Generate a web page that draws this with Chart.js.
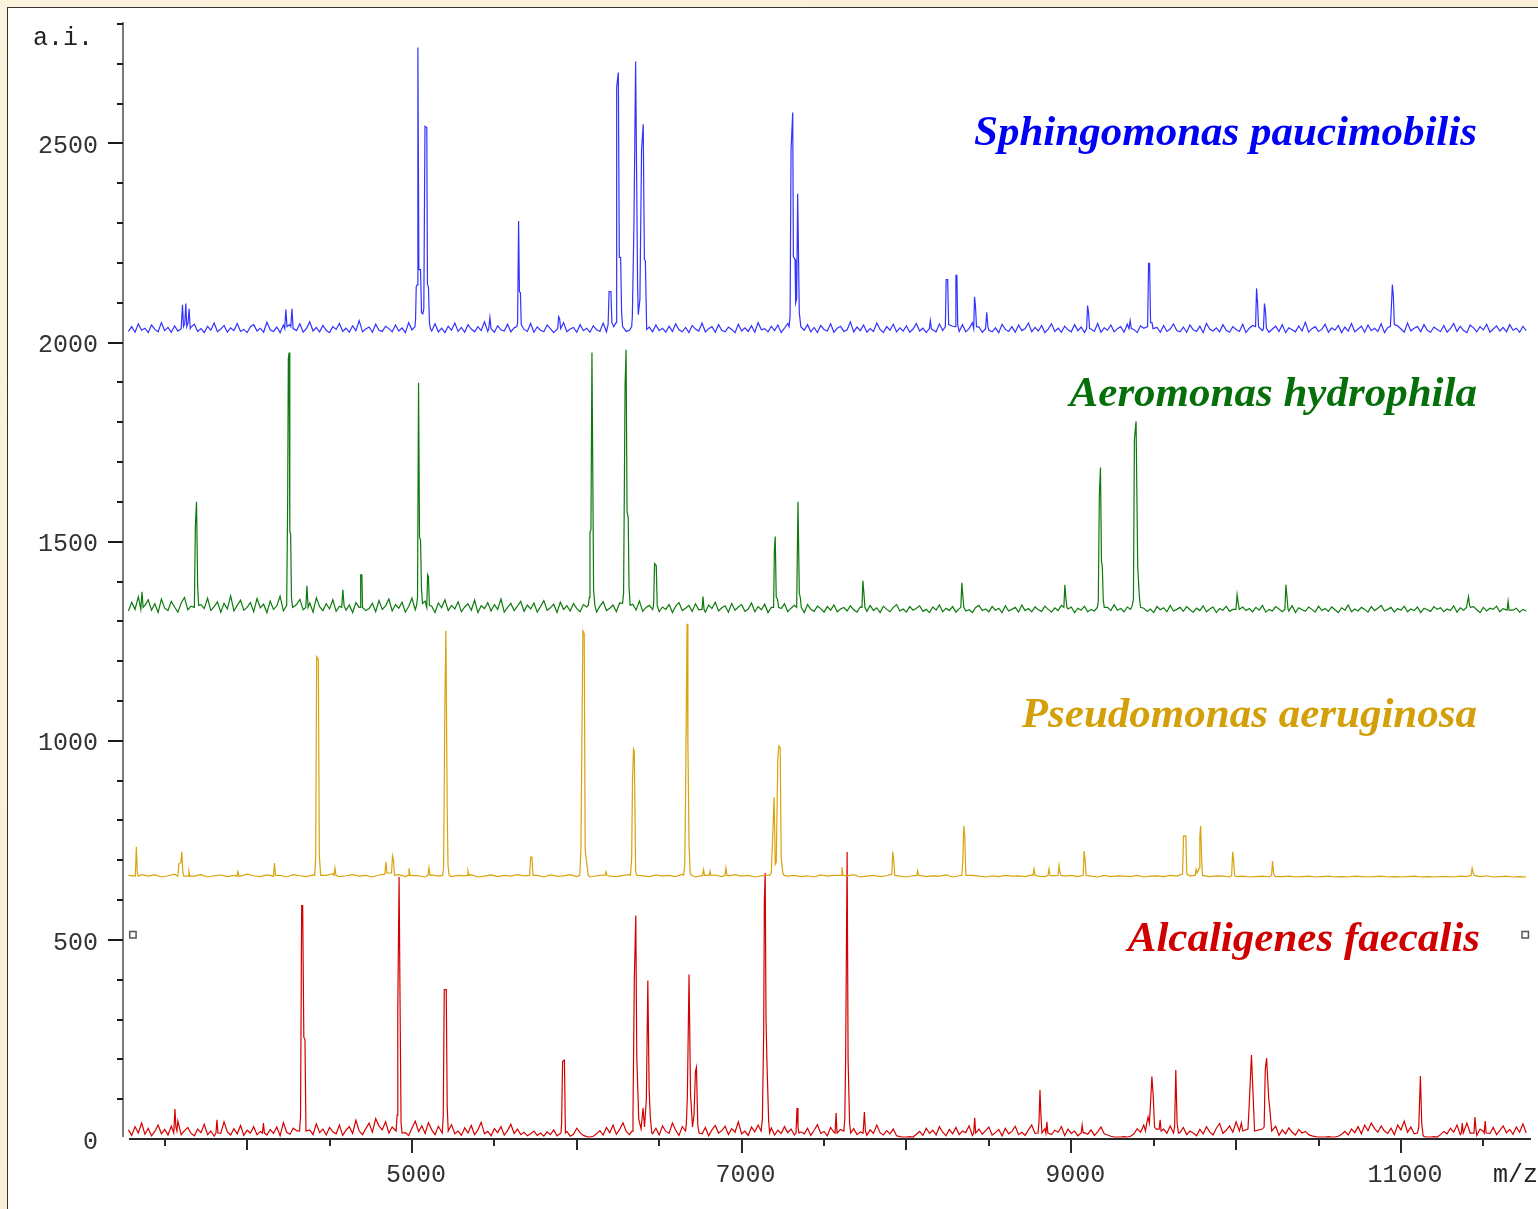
<!DOCTYPE html>
<html>
<head>
<meta charset="utf-8">
<script src="https://cdn.jsdelivr.net/npm/chart.js@4.4.1/dist/chart.umd.min.js"></script>
<style>
  html, body { margin: 0; padding: 0; }
  body { width: 1538px; height: 1209px; overflow: hidden; position: relative;
         background: linear-gradient(135deg, #fcf3de 0%, #faefd6 50%, #fcf4e0 100%); }
  #panel { position: absolute; left: 7px; top: 7px; width: 1540px; height: 1210px;
           background: #fff; border-top: 1px solid #333; border-left: 1px solid #333; }
  #chart { position: absolute; left: 0; top: 0; }
</style>
</head>
<body>
<div id="panel"></div>
<canvas id="chart" width="1538" height="1209"></canvas>
<script>
// axis ranges and tick labels (m/z, arbitrary intensity)
const xMin = 3247;
const xMax = 11789;
const yMin = 0;
const yMax = 2800;
const xLabelValues = [5000, 7000, 9000, 11000];
const yLabelValues = [0, 500, 1000, 1500, 2000, 2500];

const speciesNames = ['Sphingomonas paucimobilis', 'Aeromonas hydrophila', 'Pseudomonas aeruginosa', 'Alcaligenes faecalis'];
const lineColors = ['#3232ff', '#0c7a0c', '#d9a30c', '#d40000'];
const nameColors = ['#0000f5', '#05700a', '#d4a00a', '#d00000'];

// baseline noise, read on a regular m/z grid starting at 3280
const noiseStart = 3280;

const blueBase = 2022;
const blueStep = 20;
const blueNoise = [
  6, 18, 4, 25, 9, 14, 3, 22, 11, 5, 28, 8, 16, 4, 20, 7, 31, 10, 5, 17,
  24, 6, 13, 3, 19, 9, 27, 5, 12, 21, 4, 15, 8, 26, 6, 11, 3, 18, 23, 7,
  14, 4, 29, 10, 6, 17, 3, 22, 12, 5, 19, 8, 25, 4, 13, 30, 7, 16, 5, 21,
  9, 3, 18, 11, 26, 6, 14, 4, 20, 8, 33, 5, 12, 17, 4, 24, 9, 6, 19, 13,
  5, 22, 7, 15, 3, 28, 10, 6, 18, 4, 21, 11, 7, 25, 5, 14, 3, 19, 9, 27,
  6, 16, 4, 23, 12, 5, 18, 8, 30, 6, 13, 4, 20, 10, 7, 24, 5, 15, 3, 21,
  11, 6, 26, 4, 17, 9, 5, 22, 13, 3, 19, 7, 28, 5, 12, 16, 4, 23, 8, 14,
  4, 20, 10, 6, 27, 5, 15, 3, 18, 11, 24, 6, 9, 21, 4, 13, 29, 7, 17, 5,
  22, 8, 14, 4, 19, 6, 25, 10, 5, 16, 3, 21, 12, 7, 27, 5, 13, 18, 4, 23,
  9, 5, 17, 11, 3, 24, 7, 15, 6, 20, 4, 28, 10, 13, 5, 19, 8, 22, 3, 14,
  26, 6, 12, 4, 18, 9, 23, 5, 16, 3, 21, 11, 7, 25, 4, 14, 19, 6, 10, 30,
  5, 17, 8, 22, 4, 13, 6, 27, 11, 3, 18, 9, 24, 5, 15, 7, 20, 4, 12, 26,
  7, 14, 3, 21, 10, 5, 25, 8, 16, 4, 19, 12, 6, 23, 5, 13, 28, 7, 17, 4,
  20, 9, 5, 15, 3, 24, 11, 6, 18, 4, 22, 8, 13, 27, 5, 16, 7, 21, 3, 12,
  25, 6, 14, 4, 19, 10, 5, 23, 8, 17, 3, 20, 12, 6, 26, 4, 15, 9, 22, 5,
  13, 18, 4, 24, 7, 11, 3, 20, 14, 5, 28, 9, 16, 4, 21, 6, 12, 25, 8, 5,
  17, 4, 22, 10, 6, 19, 3, 26, 12, 7, 15, 5, 23, 9, 4, 18, 11, 6, 24, 3,
  14, 21, 5, 16, 8, 27, 4, 12, 19, 6, 23, 3, 15, 10, 5, 20, 7, 29, 4, 13,
  18, 6, 11, 24, 4, 15, 9, 21, 3, 17, 7, 26, 5, 12, 19, 4, 22, 8, 14, 6,
  25, 3, 16, 10, 5, 20, 12, 4, 27, 7, 14, 18, 5, 23, 9, 4, 17, 11, 6, 21,
  4, 13, 26, 6, 19, 8, 3, 22, 15, 5, 18, 10, 24, 4, 12, 20, 7, 16, 5, 23,
  9, 14, 4, 19, 8
];

const greenBase = 1318;
const greenStep = 20;
const greenNoise = [
  8, 30, 12, 44, 6, 22, 36, 10, 26, 4, 38, 15, 9, 32, 18, 5, 28, 42, 11, 20,
  34, 7, 24, 14, 40, 9, 19, 31, 5, 27, 13, 46, 8, 22, 35, 10, 17, 29, 6, 39,
  16, 25, 4, 33, 12, 21, 45, 8, 18, 30, 6, 24, 37, 11, 15, 28, 5, 41, 19, 9,
  26, 13, 36, 7, 20, 32, 10, 23, 4, 29, 17, 43, 9, 14, 27, 6, 34, 12, 21, 38,
  8, 24, 15, 30, 5, 19, 40, 11, 25, 7, 33, 14, 20, 4, 28, 16, 36, 9, 22, 13,
  31, 6, 18, 26, 10, 35, 4, 21, 14, 29, 8, 24, 12, 38, 5, 17, 27, 9, 20, 32,
  7, 23, 13, 28, 5, 19, 34, 10, 16, 25, 4, 30, 12, 21, 8, 27, 14, 6, 24, 18,
  11, 26, 5, 20, 31, 9, 15, 23, 6, 28, 13, 19, 4, 25, 10, 33, 7, 17, 22, 12,
  27, 6, 18, 12, 24, 4, 20, 29, 9, 15, 22, 7, 26, 11, 17, 5, 23, 14, 30, 8,
  16, 21, 5, 27, 10, 18, 24, 7, 13, 28, 6, 19, 11, 25, 4, 17, 22, 9, 14, 26,
  6, 15, 22, 9, 18, 4, 24, 12, 7, 20, 14, 5, 19, 10, 23, 6, 13, 17, 8, 21,
  11, 5, 18, 14, 7, 22, 9, 16, 4, 20, 12, 6, 17, 24, 8, 13, 5, 19, 10, 15,
  21, 7, 12, 4, 18, 10, 23, 6, 15, 9, 19, 5, 14, 20, 8, 11, 4, 17, 22, 9,
  13, 6, 19, 10, 15, 4, 21, 8, 12, 17, 5, 23, 9, 14, 6, 18, 11, 7, 20, 12,
  5, 16, 9, 22, 7, 13, 18, 4, 15, 10, 20, 6, 12, 8, 19, 14, 5, 17, 9, 24,
  10, 14, 6, 18, 12, 5, 20, 9, 15, 7, 13, 4, 19, 11, 16, 6, 22, 8, 12, 17,
  7, 19, 11, 5, 15, 9, 21, 6, 13, 18, 4, 14, 10, 20, 7, 12, 16, 5, 18, 9,
  14, 6, 17, 10, 22, 5, 12, 8, 19, 13, 6, 15, 9, 21, 4, 16, 11, 7, 18, 12,
  5, 20, 9, 14, 7, 18, 11, 4, 16, 10, 23, 6, 13, 8, 17, 12, 5, 19, 9, 15,
  22, 8, 12, 17, 5, 14, 10, 20, 6, 13, 9, 18, 4, 15, 11, 7, 19, 12, 16, 6,
  13, 9, 21, 5, 16, 10, 14, 7, 19, 11, 4, 17, 8, 15, 12, 20, 6, 14, 9, 18,
  10, 15, 5, 12, 8
];

const goldBase = 656;
const goldStep = 40;
const goldNoise = [
  6, 3, 8, 4, 7, 2, 5, 9, 3, 6, 4, 8, 2, 5, 7, 3, 6, 4, 9, 5,
  3, 7, 4, 6, 2, 8, 5, 3, 7, 4, 6, 10, 3, 5, 8, 4, 6, 2, 7, 5,
  4, 8, 3, 6, 5, 2, 7, 4, 9, 3, 6, 5, 8, 2, 4, 7, 3, 6, 4, 8,
  5, 3, 6, 2, 7, 4, 5, 8, 3, 6, 2, 5, 7, 4, 3, 6, 8, 4, 5, 3,
  7, 4, 6, 3, 9, 5, 2, 6, 4, 7, 3, 5, 8, 4, 6, 2, 5, 7, 3, 6,
  4, 6, 3, 5, 2, 7, 4, 6, 3, 5, 8, 2, 4, 6, 3, 5, 7, 4, 2, 5,
  6, 3, 5, 4, 7, 2, 5, 3, 6, 4, 2, 5, 3, 6, 4, 5, 3, 7, 4, 3,
  5, 2, 4, 6, 3, 5, 4, 2, 6, 3, 5, 4, 3, 6, 2, 4, 5, 3, 6, 4,
  3, 5, 2, 4, 3, 5, 4, 2, 3, 4, 2, 3, 4, 2, 3, 3, 4, 2, 3, 4,
  2, 3, 4, 2, 3, 2, 4, 3, 2, 3, 4, 2, 3, 2, 3, 4, 2, 3, 2, 3,
  3, 2, 4, 3, 2, 3, 5, 2, 3, 4, 2, 3, 2
];

const redBase = 5;
const redStep = 20;
const redNoise = [
  18, 4, 26, 10, 35, 7, 22, 3, 14, 30, 8, 19, 5, 27, 12, 40, 6, 16, 24, 9,
  3, 20, 11, 32, 6, 15, 2, 24, 9, 38, 13, 5, 21, 8, 29, 4, 17, 10, 26, 6,
  14, 31, 5, 19, 9, 25, 3, 36, 12, 7, 22, 16, 4, 28, 10, 18, 6, 33, 11, 20,
  5, 24, 13, 8, 30, 4, 17, 26, 9, 42, 15, 6, 21, 35, 12, 46, 28, 18, 38, 10,
  25, 7, 16, 33, 11, 4, 22, 40, 14, 28, 9, 36, 18, 6, 27, 12, 3, 19, 31, 8,
  15, 4, 23, 10, 29, 6, 18, 37, 8, 14, 3, 21, 11, 26, 5, 16, 32, 9, 20, 6,
  12, 3, 8, 15, 4, 10, 2, 13, 6, 18, 3, 9, 5, 14, 2, 7, 22, 11, 4, 1,
  0, 2, 8, 16, 5, 24, 11, 30, 7, 19, 36, 14, 6, 27, 10, 20, 4, 33, 12, 8,
  22, 5, 28, 14, 9, 35, 17, 4, 26, 11, 20, 6, 31, 15, 8, 24, 3, 18, 29, 10,
  16, 27, 6, 21, 12, 38, 8, 15, 4, 25, 13, 30, 7, 19, 10, 23, 5, 17, 9, 26,
  11, 20, 5, 28, 13, 8, 22, 4, 17, 31, 9, 14, 3, 24, 12, 6, 19, 27, 8, 15,
  21, 6, 13, 25, 4, 18, 9, 30, 11, 5, 16, 8, 20, 3, 1, 0, 0, 1, 0, 7,
  14, 4, 22, 9, 17, 5, 26, 12, 3, 19, 8, 24, 6, 15, 11, 28, 4, 13, 20, 7,
  16, 25, 5, 11, 19, 3, 22, 8, 14, 27, 6, 12, 4, 18, 30, 9, 15, 5, 21, 10,
  6, 17, 12, 26, 4, 20, 9, 15, 3, 23, 11, 7, 18, 4, 13, 25, 8, 5, 2, 0,
  0, 0, 1, 0, 2, 8, 21, 12, 30, 16, 6, 24, 35, 14, 20, 9, 28, 5, 18, 11,
  24, 6, 15, 10, 3, 19, 8, 26, 13, 5, 22, 34, 9, 17, 28, 12, 38, 20, 7, 30,
  14, 25, 9, 33, 16, 6, 21, 11, 27, 4, 18, 8, 23, 12, 5, 19, 10, 14, 6, 3,
  1, 0, 0, 0, 1, 0, 0, 2, 7, 14, 5, 20, 11, 26, 8, 30, 16, 35, 21, 12,
  28, 15, 9, 22, 6, 30, 18, 40, 12, 25, 8, 19, 4, 1, 0, 0, 1, 0, 6, 14,
  8, 22, 12, 30, 6, 18, 35, 10, 26, 4, 20, 14, 32, 9, 24, 6, 16, 28, 11, 19,
  7, 25, 12, 33, 10
];

// peak groups: [m/z, intensity]
const bluePeaks = [
  [[3600, 2035], [3608, 2095], [3614, 2040], [3622, 2048], [3628, 2098], [3634, 2040], [3642, 2050], [3648, 2085], [3655, 2035]],
  [[4228, 2035], [4235, 2083], [4242, 2040], [4258, 2045], [4265, 2040], [4272, 2085], [4279, 2035]],
  [[5018, 2040], [5022, 2058], [5026, 2141], [5032, 2145], [5036, 2741], [5042, 2183], [5052, 2183], [5058, 2075], [5066, 2072], [5072, 2085], [5079, 2543], [5090, 2540], [5094, 2146], [5100, 2140], [5106, 2050], [5112, 2035]],
  [[5466, 2035], [5473, 2063], [5480, 2035]],
  [[5636, 2040], [5641, 2050], [5647, 2305], [5652, 2128], [5658, 2125], [5663, 2045]],
  [[5884, 2035], [5890, 2065], [5896, 2060], [5902, 2035]],
  [[6190, 2045], [6196, 2128], [6207, 2128], [6213, 2050], [6224, 2040], [6238, 2050], [6242, 2641], [6252, 2678], [6258, 2214], [6266, 2214], [6272, 2075], [6278, 2040]],
  [[6333, 2040], [6337, 2065], [6347, 2302], [6357, 2706], [6369, 2141], [6373, 2070], [6383, 2108], [6393, 2485], [6403, 2548], [6410, 2209], [6416, 2205], [6424, 2033]],
  [[7288, 2040], [7294, 2065], [7300, 2485], [7310, 2578], [7314, 2216], [7324, 2209], [7328, 2100], [7334, 2110], [7340, 2374], [7350, 2075], [7359, 2040]],
  [[8139, 2035], [8145, 2055], [8151, 2035]],
  [[8236, 2040], [8241, 2158], [8250, 2158], [8256, 2045]],
  [[8295, 2040], [8300, 2169], [8306, 2169], [8311, 2045]],
  [[8408, 2035], [8413, 2115], [8419, 2090], [8425, 2040]],
  [[8480, 2035], [8487, 2076], [8494, 2040]],
  [[9093, 2035], [9099, 2093], [9105, 2075], [9111, 2035]],
  [[9350, 2035], [9357, 2055], [9364, 2035]],
  [[9463, 2040], [9469, 2199], [9475, 2199], [9481, 2050], [9490, 2050], [9496, 2035]],
  [[10118, 2040], [10124, 2136], [10130, 2100], [10136, 2040]],
  [[10166, 2035], [10172, 2098], [10178, 2080], [10184, 2035]],
  [[10936, 2040], [10942, 2090], [10948, 2146], [10954, 2116], [10960, 2045]]
];

const greenPeaks = [
  [[3355, 1330], [3362, 1374], [3369, 1335]],
  [[3680, 1335], [3686, 1538], [3693, 1600], [3700, 1387], [3706, 1340]],
  [[4240, 1340], [4246, 1600], [4250, 1960], [4255, 1975], [4259, 1525], [4264, 1520], [4269, 1359], [4276, 1335]],
  [[4356, 1335], [4363, 1389], [4370, 1335]],
  [[4574, 1335], [4581, 1379], [4588, 1340]],
  [[4685, 1335], [4689, 1417], [4696, 1417], [4700, 1335]],
  [[5028, 1340], [5034, 1360], [5040, 1899], [5046, 1510], [5052, 1505], [5058, 1379], [5064, 1345]],
  [[5090, 1335], [5095, 1417], [5100, 1412], [5106, 1340]],
  [[6070, 1340], [6076, 1360], [6080, 1523], [6086, 1530], [6092, 1975], [6102, 1379], [6110, 1340]],
  [[6278, 1345], [6284, 1372], [6293, 1890], [6299, 1982], [6305, 1575], [6312, 1560], [6317, 1384], [6324, 1340]],
  [[6466, 1340], [6472, 1445], [6482, 1440], [6488, 1340]],
  [[6760, 1330], [6766, 1362], [6772, 1330]],
  [[7194, 1335], [7199, 1480], [7204, 1513], [7210, 1360], [7218, 1355], [7224, 1335]],
  [[7334, 1335], [7342, 1600], [7350, 1370], [7356, 1360], [7362, 1335]],
  [[7730, 1335], [7736, 1402], [7742, 1370], [7748, 1335]],
  [[8330, 1335], [8336, 1397], [8342, 1365], [8348, 1335]],
  [[8955, 1335], [8961, 1392], [8967, 1360], [8973, 1335]],
  [[9158, 1335], [9164, 1350], [9170, 1613], [9177, 1686], [9183, 1450], [9188, 1440], [9194, 1354], [9200, 1335]],
  [[9370, 1340], [9377, 1355], [9383, 1756], [9393, 1802], [9403, 1437], [9413, 1362], [9420, 1335]],
  [[9999, 1330], [10006, 1367], [10013, 1345], [10019, 1330]],
  [[10296, 1330], [10302, 1392], [10308, 1365], [10315, 1330]],
  [[11398, 1335], [11404, 1350], [11410, 1362], [11416, 1340], [11422, 1335]],
  [[11644, 1328], [11650, 1350], [11656, 1328]]
];

const goldPeaks = [
  [[3322, 660], [3328, 734], [3334, 668], [3340, 660]],
  [[3580, 660], [3586, 691], [3598, 694], [3604, 721], [3610, 670], [3616, 660]],
  [[3642, 660], [3647, 672], [3653, 660]],
  [[3938, 660], [3944, 671], [3950, 660]],
  [[4160, 660], [4166, 693], [4172, 662]],
  [[4410, 662], [4416, 708], [4422, 1211], [4432, 1205], [4438, 713], [4446, 662]],
  [[4527, 662], [4533, 680], [4539, 662]],
  [[4836, 665], [4842, 696], [4848, 668], [4876, 668], [4882, 711], [4888, 700], [4894, 662]],
  [[4977, 662], [4982, 680], [4988, 662]],
  [[5097, 662], [5103, 681], [5109, 662]],
  [[5186, 662], [5192, 681], [5200, 1100], [5206, 1276], [5214, 819], [5219, 686], [5226, 662]],
  [[5334, 662], [5340, 673], [5346, 662]],
  [[5714, 662], [5720, 708], [5728, 708], [5734, 662]],
  [[6018, 662], [6025, 726], [6031, 1000], [6037, 1276], [6045, 1269], [6051, 726], [6064, 680], [6070, 662]],
  [[6171, 662], [6177, 671], [6183, 662]],
  [[6326, 662], [6333, 706], [6338, 900], [6344, 979], [6349, 973], [6357, 672], [6364, 662]],
  [[6648, 662], [6655, 686], [6660, 864], [6669, 1294], [6674, 1000], [6681, 740], [6688, 668], [6695, 662]],
  [[6763, 662], [6769, 676], [6775, 662]],
  [[6802, 662], [6808, 673], [6814, 662]],
  [[6899, 662], [6905, 681], [6911, 662]],
  [[7170, 662], [7180, 668], [7189, 766], [7197, 858], [7204, 690], [7210, 695], [7220, 960], [7226, 987], [7234, 982], [7240, 708], [7250, 668], [7258, 662]],
  [[7603, 662], [7609, 683], [7615, 662]],
  [[7911, 665], [7917, 721], [7923, 700], [7929, 662]],
  [[8062, 662], [8068, 673], [8074, 662]],
  [[8336, 662], [8342, 700], [8348, 786], [8354, 760], [8360, 662]],
  [[8768, 662], [8774, 678], [8780, 662]],
  [[8859, 662], [8865, 678], [8871, 662]],
  [[8920, 662], [8926, 687], [8932, 668], [8938, 662]],
  [[9072, 662], [9078, 723], [9084, 700], [9090, 662]],
  [[9675, 665], [9681, 761], [9695, 761], [9701, 665]],
  [[9751, 662], [9757, 677], [9763, 668], [9776, 680], [9780, 760], [9785, 786], [9791, 700], [9796, 662]],
  [[9973, 662], [9979, 721], [9985, 700], [9991, 662]],
  [[10215, 662], [10221, 698], [10227, 668], [10233, 662]],
  [[11426, 662], [11432, 680], [11438, 668], [11444, 662]]
];

const redPeaks = [
  [[3555, 15], [3562, 75], [3568, 30], [3574, 20]],
  [[3811, 15], [3817, 48], [3823, 15]],
  [[4093, 15], [4099, 40], [4105, 15]],
  [[4318, 20], [4324, 55], [4331, 586], [4337, 586], [4344, 255], [4351, 250], [4357, 20]],
  [[4904, 20], [4910, 60], [4914, 322], [4922, 658], [4928, 330], [4934, 40], [4940, 15]],
  [[5184, 15], [5190, 60], [5196, 375], [5208, 375], [5214, 80], [5220, 20]],
  [[5904, 15], [5908, 40], [5914, 195], [5925, 198], [5931, 15]],
  [[6335, 20], [6341, 60], [6349, 400], [6358, 561], [6364, 205], [6376, 50], [6390, 25], [6402, 78], [6411, 30], [6422, 100], [6431, 398], [6439, 123], [6446, 55], [6455, 15]],
  [[6660, 20], [6665, 40], [6671, 110], [6681, 413], [6690, 113], [6702, 30], [6711, 60], [6720, 170], [6726, 180], [6734, 35], [6742, 15]],
  [[7118, 20], [7126, 50], [7134, 268], [7138, 600], [7143, 668], [7148, 300], [7154, 188], [7164, 45], [7170, 15]],
  [[7330, 15], [7336, 78], [7342, 30], [7348, 15]],
  [[7567, 15], [7573, 65], [7579, 15]],
  [[7620, 20], [7626, 50], [7631, 198], [7640, 721], [7646, 198], [7655, 40], [7662, 15]],
  [[7737, 15], [7745, 68], [7751, 20]],
  [[8408, 15], [8414, 53], [8420, 15]],
  [[8798, 15], [8804, 40], [8810, 123], [8816, 60], [8822, 15]],
  [[8846, 15], [8852, 43], [8858, 15]],
  [[9060, 15], [9066, 35], [9072, 15]],
  [[9450, 20], [9458, 40], [9466, 55], [9474, 40], [9482, 100], [9489, 157], [9497, 110], [9505, 30], [9515, 25], [9533, 25], [9539, 48], [9545, 20]],
  [[9620, 15], [9627, 30], [9634, 173], [9642, 40], [9650, 15]],
  [[10020, 20], [10032, 40], [10040, 20], [10072, 25], [10080, 90], [10093, 211], [10104, 100], [10112, 20], [10159, 25], [10170, 30], [10177, 175], [10185, 203], [10198, 100], [10204, 78], [10216, 20]],
  [[11100, 15], [11108, 30], [11118, 158], [11126, 40], [11134, 10]],
  [[11366, 15], [11372, 40], [11378, 15]],
  [[11443, 15], [11449, 55], [11455, 25]],
  [[11505, 15], [11511, 45], [11517, 15]]
];

// the two small square markers at the Alcaligenes level
const markerPoints = [[3307, 513], [11754, 513]];

// merge baseline noise and peak groups into one sorted trace
const buildTrace = (base, step, noise, groups) => {
    const pts = [];
    noise.forEach((n, i) => {
        const mz = noiseStart + i * step;
        const inPeak = groups.some(g => mz >= g[0][0] - 4 && mz <= g[g.length - 1][0] + 4);
        if (!inPeak) pts.push({ x: mz, y: base + n });
    });
    groups.forEach(g => g.forEach(p => pts.push({ x: p[0], y: p[1] })));
    pts.sort((a, b) => a.x - b.x);
    return pts;
};

const traces = [
    buildTrace(blueBase, blueStep, blueNoise, bluePeaks),
    buildTrace(greenBase, greenStep, greenNoise, greenPeaks),
    buildTrace(goldBase, goldStep, goldNoise, goldPeaks),
    buildTrace(redBase, redStep, redNoise, redPeaks),
];

const monoFont = '"Liberation Mono", "DejaVu Sans Mono", monospace';

// axis lines, tick marks and text labels
const decorPlugin = {
    id: 'decor',
    afterDraw(chart) {
        const { ctx, chartArea, scales: { x, y } } = chart;
        ctx.save();

        // y axis
        ctx.strokeStyle = '#7a7a7a';
        ctx.lineWidth = 2;
        ctx.beginPath();
        ctx.moveTo(chartArea.left, y.getPixelForValue(yMax) - 2);
        ctx.lineTo(chartArea.left, y.getPixelForValue(yMin) - 2);
        ctx.stroke();

        ctx.strokeStyle = '#1a1a1a';
        for (let v = 100; v <= yMax; v += 100) {
            const py = Math.round(y.getPixelForValue(v));
            const len = v % 500 === 0 ? 15 : 6;
            ctx.beginPath();
            ctx.moveTo(chartArea.left - len, py);
            ctx.lineTo(chartArea.left, py);
            ctx.stroke();
        }

        // x axis
        const baseY = Math.round(y.getPixelForValue(0));
        ctx.strokeStyle = '#2a2a2a';
        ctx.beginPath();
        ctx.moveTo(chartArea.left + 6, baseY);
        ctx.lineTo(chartArea.right, baseY);
        ctx.stroke();
        for (let v = 3500; v <= xMax; v += 500) {
            const px = Math.round(x.getPixelForValue(v));
            let len = 7;
            if (xLabelValues.includes(v)) len = 14;
            else if (v % 1000 === 0) len = 11;
            ctx.beginPath();
            ctx.moveTo(px, baseY);
            ctx.lineTo(px, baseY + len);
            ctx.stroke();
        }

        // axis titles
        ctx.fillStyle = '#222';
        ctx.font = '25px ' + monoFont;
        ctx.textAlign = 'left';
        ctx.textBaseline = 'alphabetic';
        ctx.fillText('a.i.', 33, 45);
        ctx.fillText('m/z', 1493, 1182);

        // species names
        const nameBaselines = [145, 406, 727, 951];
        const nameRight = [1477, 1477, 1477, 1480];
        ctx.font = 'bold italic 43px "Liberation Serif", "Times New Roman", serif';
        ctx.textAlign = 'right';
        speciesNames.forEach((name, i) => {
            ctx.fillStyle = nameColors[i];
            ctx.fillText(name, nameRight[i], nameBaselines[i]);
        });

        ctx.restore();
    }
};

const datasets = traces.map((pts, i) => ({
    label: speciesNames[i],
    data: pts,
    borderColor: lineColors[i],
    borderWidth: 1.2,
    pointRadius: 0,
    tension: 0,
    fill: false,
}));
datasets.push({
    type: 'scatter',
    label: 'markers',
    data: markerPoints.map(p => ({ x: p[0], y: p[1] })),
    pointStyle: 'rect',
    pointRadius: 4.5,
    borderColor: '#555',
    backgroundColor: '#fff',
    borderWidth: 1.5,
});

new Chart(document.getElementById('chart'), {
    type: 'line',
    data: { datasets },
    options: {
        responsive: false,
        animation: false,
        devicePixelRatio: 1,
        layout: { padding: { top: 24, right: 7, left: 0, bottom: 0 } },
        plugins: { legend: { display: false }, tooltip: { enabled: false } },
        scales: {
            x: {
                type: 'linear',
                min: xMin,
                max: xMax,
                grid: { display: false, drawTicks: false },
                border: { display: false },
                afterBuildTicks: (scale) => { scale.ticks = xLabelValues.map(v => ({ value: v })); },
                afterFit: (scale) => {
                    scale.height = 70;
                    scale.paddingLeft = 0;
                    scale.paddingRight = 0;
                },
                ticks: {
                    padding: 21,
                    labelOffset: 4,
                    maxRotation: 0,
                    autoSkip: false,
                    color: '#333',
                    font: { family: monoFont, size: 25 },
                    callback: (v) => String(v),
                },
            },
            y: {
                type: 'linear',
                min: yMin,
                max: yMax,
                grid: { display: false, drawTicks: false },
                border: { display: false },
                afterBuildTicks: (scale) => { scale.ticks = yLabelValues.map(v => ({ value: v })); },
                afterFit: (scale) => {
                    scale.width = 123;
                    scale.paddingTop = 0;
                    scale.paddingBottom = 0;
                },
                ticks: {
                    padding: 25,
                    labelOffset: 3,
                    autoSkip: false,
                    color: '#333',
                    font: { family: monoFont, size: 25 },
                    callback: (v) => String(v),
                },
            },
        },
    },
    plugins: [decorPlugin],
});
</script>
</body>
</html>
